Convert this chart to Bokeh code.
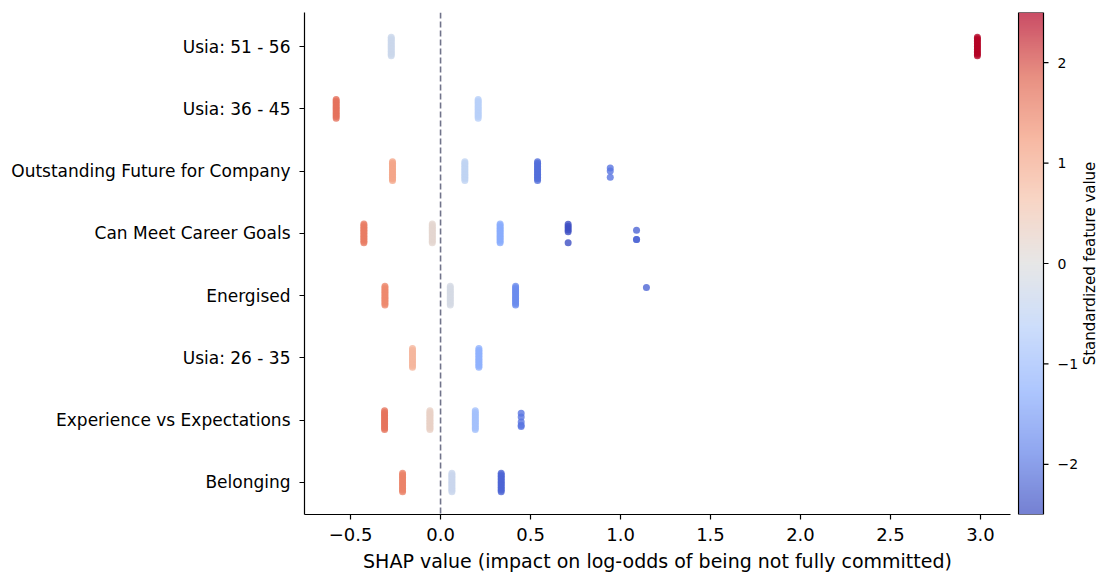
import numpy as np
from bokeh.plotting import figure
from bokeh.models import (ColumnDataSource, LinearColorMapper, FixedTicker, Span, Range1d)
from bokeh.core.properties import value
from bokeh.layouts import row
from bokeh.embed import file_html
from bokeh.resources import INLINE

# ---------------- data ----------------
FEATURES = ["Usia: 51 - 56", "Usia: 36 - 45", "Outstanding Future for Company",
            "Can Meet Career Goals", "Energised", "Usia: 26 - 35",
            "Experience vs Expectations", "Belonging"]  # top -> bottom

# dense strips (many samples with the same SHAP value)
STRIP_FEATURE = ["Usia: 51 - 56", "Usia: 51 - 56",
                 "Usia: 36 - 45", "Usia: 36 - 45",
                 "Outstanding Future for Company", "Outstanding Future for Company", "Outstanding Future for Company",
                 "Can Meet Career Goals", "Can Meet Career Goals", "Can Meet Career Goals",
                 "Energised", "Energised", "Energised",
                 "Usia: 26 - 35", "Usia: 26 - 35",
                 "Experience vs Expectations", "Experience vs Expectations", "Experience vs Expectations",
                 "Belonging", "Belonging", "Belonging"]
STRIP_SHAP = [-0.274, 2.983,
              -0.580, 0.209,
              -0.267, 0.135, 0.539,
              -0.426, -0.046, 0.331,
              -0.309, 0.054, 0.417,
              -0.156, 0.213,
              -0.311, -0.059, 0.193,
              -0.211, 0.063, 0.337]
STRIP_VALUE = [-0.30, 2.70,
               1.67, -0.62,
               1.07, -0.50, -2.10,
               1.56, 0.18, -1.30,
               1.42, -0.15, -1.73,
               0.82, -1.20,
               1.65, 0.30, -0.90,
               1.50, -0.35, -2.20]

# sparse individual points
POINT_FEATURE = ["Outstanding Future for Company"] * 3 + \
                ["Can Meet Career Goals"] * 6 + \
                ["Can Meet Career Goals"] * 3 + \
                ["Energised"] + \
                ["Experience vs Expectations"] * 5
POINT_SHAP = [0.943, 0.943, 0.943,
              0.709, 0.709, 0.709, 0.709, 0.709, 0.709,
              1.089, 1.089, 1.089,
              1.144,
              0.448, 0.448, 0.448, 0.448, 0.448]
POINT_VALUE = [-2.00, -2.00, -2.00,
               -2.45, -2.45, -2.45, -2.45, -2.45, -2.45,
               -2.20, -2.20, -2.20,
               -2.20,
               -2.00, -2.00, -2.00, -2.00, -2.00]

X_TICKS = [-0.5, 0.0, 0.5, 1.0, 1.5, 2.0, 2.5, 3.0]
X_TICK_LABELS = ["\u22120.5", "0.0", "0.5", "1.0", "1.5", "2.0", "2.5", "3.0"]
CB_LOW, CB_HIGH = -2.5, 2.5
CB_TICKS = [-2, -1, 0, 1, 2]
CB_TICK_LABELS = ["\u22122", "\u22121", "0", "1", "2"]
CB_TITLE = "Standardized feature value"

# ---------------- layout (vertical jitter) ----------------
STRIP_JITTER = [-0.15, -0.125, -0.1, -0.075, -0.05, -0.025, 0.0,
                0.025, 0.05, 0.075, 0.1, 0.125, 0.15]
POINT_JITTER = [0.05, 0.0, -0.10,
                0.145, 0.115, 0.085, 0.055, 0.025, -0.15,
                0.05, -0.10, -0.10,
                0.13,
                0.11, 0.05, -0.03, -0.08, -0.10]

# ---------------- colormap (coolwarm) ----------------
anchors = [(0.0, (59, 76, 192)), (0.125, (98, 130, 234)), (0.25, (141, 176, 254)),
           (0.375, (184, 208, 249)), (0.5, (221, 221, 221)), (0.625, (245, 196, 173)),
           (0.75, (244, 154, 123)), (0.875, (222, 96, 77)), (1.0, (180, 4, 38))]
def coolwarm(n=256):
    out = []
    ts = [a[0] for a in anchors]
    for i in range(n):
        t = i / (n - 1)
        rgb = [int(round(np.interp(t, ts, [a[1][k] for a in anchors]))) for k in range(3)]
        out.append("#%02x%02x%02x" % tuple(rgb))
    return out
PAL = coolwarm()
mapper = LinearColorMapper(palette=PAL, low=CB_LOW, high=CB_HIGH)

n = len(FEATURES)
ypos = {f: n - 1 - i for i, f in enumerate(FEATURES)}

xs, ys, vs = [], [], []
for f, s, v in zip(STRIP_FEATURE, STRIP_SHAP, STRIP_VALUE):
    for j in STRIP_JITTER:
        xs.append(s); ys.append(ypos[f] + j); vs.append(v)
for f, s, v, j in zip(POINT_FEATURE, POINT_SHAP, POINT_VALUE, POINT_JITTER):
    xs.append(s); ys.append(ypos[f] + j); vs.append(v)
src = ColumnDataSource(dict(x=xs, y=ys, v=vs))

FONT = "DejaVu Sans"

p = figure(frame_width=706, frame_height=502, output_backend="svg", toolbar_location=None,
           x_range=Range1d(-0.756, 3.167), y_range=Range1d(-0.514, 7.546),
           min_border_left=304, min_border_right=7, min_border_top=12, min_border_bottom=65)
p.outline_line_color = None
p.grid.visible = False
p.background_fill_color = "white"

zero = Span(location=0, dimension="height", line_color="#70738a", line_width=1.6,
            line_dash="6 3", level="underlay")
p.add_layout(zero)

p.scatter("x", "y", source=src, size=7, line_color=None,
          fill_color={"field": "v", "transform": mapper}, fill_alpha=0.8)

xa = p.xaxis[0]
xa.ticker = FixedTicker(ticks=X_TICKS)
xa.major_label_overrides = {t: l for t, l in zip(X_TICKS, X_TICK_LABELS)}
xa.axis_label = "SHAP value (impact on log-odds of being not fully committed)"
ya = p.yaxis[0]
ya.ticker = FixedTicker(ticks=list(range(n)))
ya.major_label_overrides = {ypos[f]: f for f in FEATURES}
for ax in (xa, ya):
    ax.axis_line_color = "black"
    ax.axis_line_width = 1.2
    ax.major_tick_line_color = "black"
    ax.major_tick_line_width = 1.2
    ax.major_tick_out = 5
    ax.major_tick_in = 0
    ax.minor_tick_line_color = None
    ax.major_label_text_font = FONT
    ax.major_label_text_color = "black"
    ax.axis_label_text_font = FONT
    ax.axis_label_text_font_style = "normal"
    ax.axis_label_text_color = "black"
xa.major_label_text_font_size = "18px"
xa.axis_label_text_font_size = "19px"
ya.major_label_text_font_size = "17px"
xa.major_label_standoff = 8
xa.axis_label_standoff = 6
ya.major_label_standoff = 9

# ---------------- colorbar (drawn in its own pixel-unit frame) ----------------
cb = figure(frame_width=82, frame_height=502, output_backend="svg", toolbar_location=None,
            x_range=Range1d(-1, 81), y_range=Range1d(CB_LOW, CB_HIGH),
            x_axis_location=None, y_axis_location=None,
            min_border_left=0, min_border_right=0, min_border_top=12, min_border_bottom=65)
cb.grid.visible = False
cb.outline_line_color = None
grad = np.linspace(CB_LOW, CB_HIGH, 256).reshape(256, 1)
cb.image(image=[grad], x=0, y=CB_LOW, dw=25, dh=CB_HIGH - CB_LOW, color_mapper=mapper, global_alpha=0.7)
cb.quad(left=[0], right=[25], bottom=[CB_LOW], top=[CB_HIGH], fill_color=None,
        line_color="black", line_width=1.2)
cb.segment(x0=[25] * len(CB_TICKS), x1=[30] * len(CB_TICKS), y0=CB_TICKS, y1=CB_TICKS,
           line_color="black", line_width=1.2)
cb.text(x=[39] * len(CB_TICKS), y=CB_TICKS, text=CB_TICK_LABELS,
        text_font=value(FONT), text_font_size="14px", text_color="black",
        text_align="left", text_baseline="middle")
cb.text(x=[71], y=[(CB_LOW + CB_HIGH) / 2], text=[CB_TITLE], angle=np.pi / 2,
        text_font=value(FONT), text_font_size="15px", text_color="black",
        text_align="center", text_baseline="middle")

layout = row(p, cb)
open("out.html", "w").write(file_html(layout, INLINE))
